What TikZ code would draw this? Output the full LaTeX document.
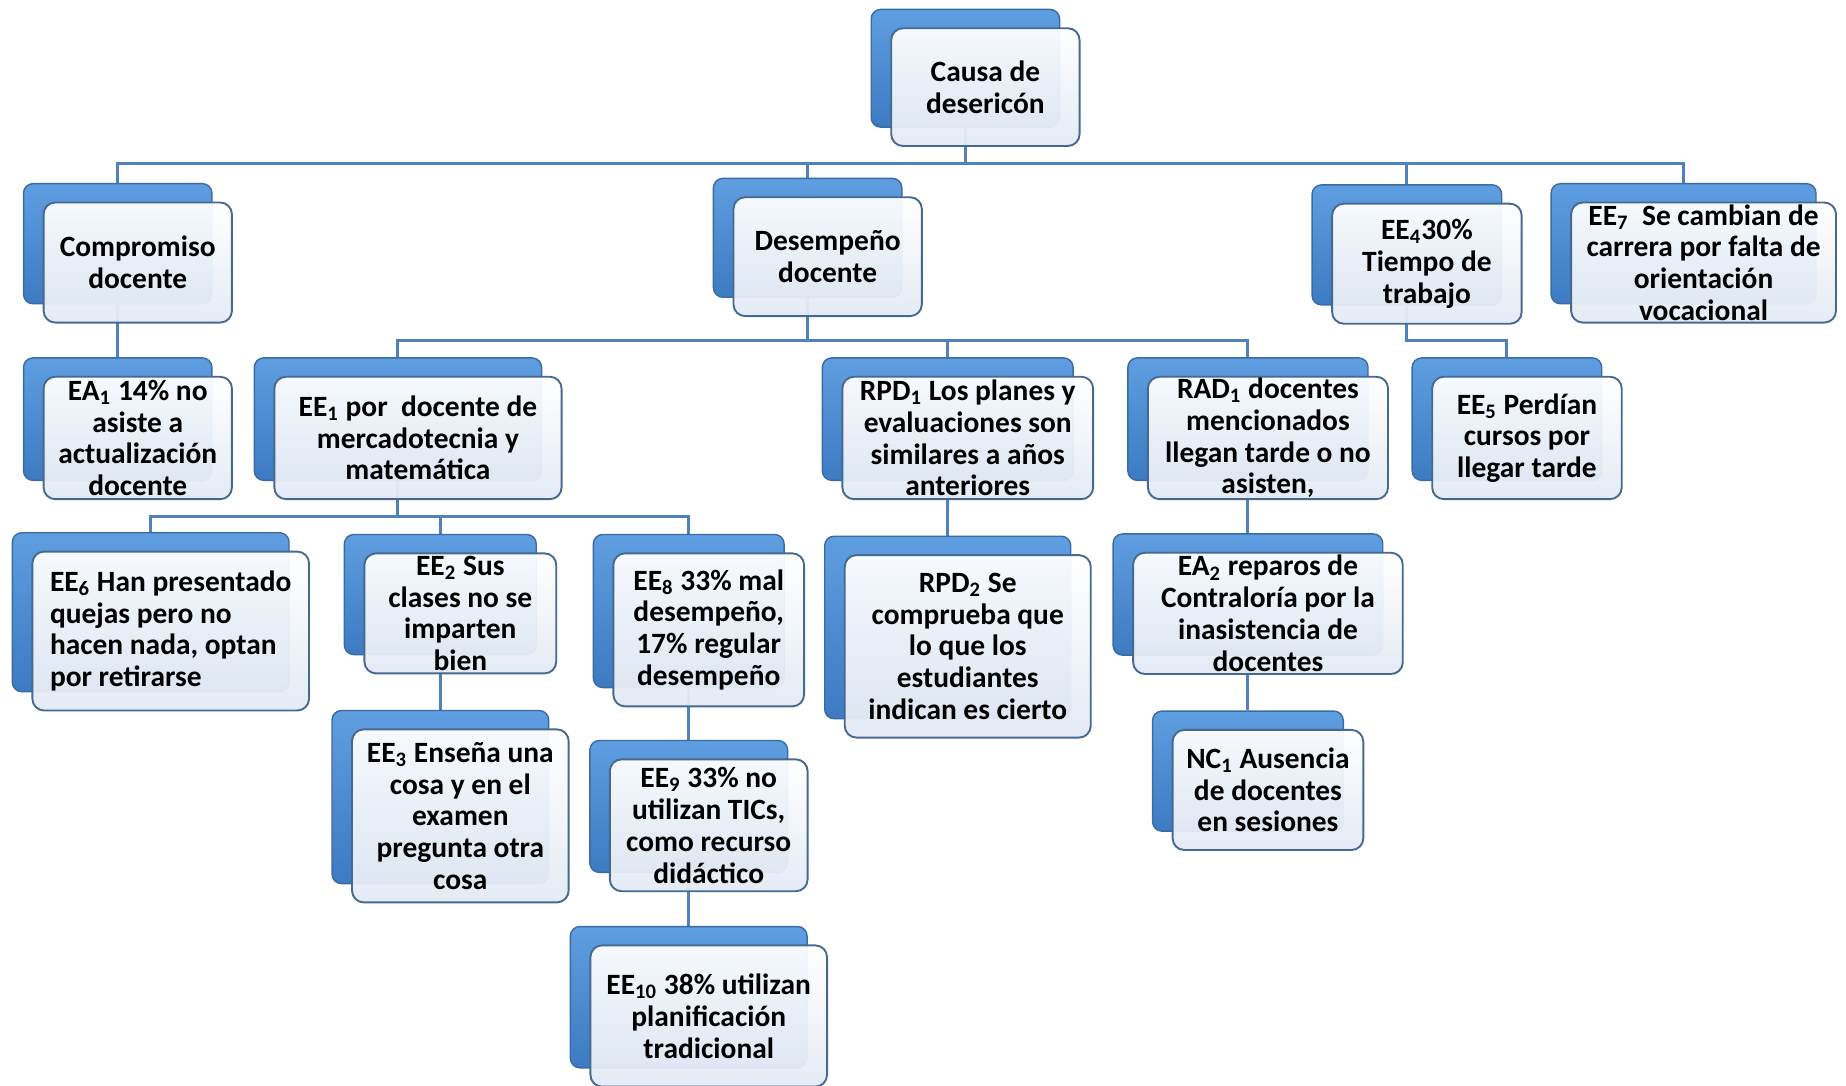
\documentclass[tikz,border=0pt]{standalone}
\usepackage{fontspec}
\setmainfont{Carlito}
\usetikzlibrary{backgrounds}
\definecolor{backtop}{HTML}{5F9EE0}
\definecolor{backbot}{HTML}{3C7AC2}
\definecolor{backline}{HTML}{3A6CA3}
\definecolor{frontbot}{HTML}{E3EAF4}
\definecolor{frontline}{HTML}{46698F}
\definecolor{linkblue}{HTML}{4F81BD}
\begin{document}
\begin{tikzpicture}[x=0.5pt,y=-0.5pt,
	back/.style={draw=backline,line width=0.6pt,top color=backtop,bottom color=backbot,rounded corners=4pt,inner sep=0pt},
	front/.style={draw=frontline,line width=0.8pt,top color=white,bottom color=frontbot,fill opacity=0.95,text opacity=1,rounded corners=5pt,inner sep=0pt,align=center,font=\fontsize{12.5}{13.5}\selectfont\bfseries},
	link/.style={draw=linkblue,line width=1.3pt}]
	\useasboundingbox (0,0) rectangle (1568,922);
	
	\node[back,minimum width=80pt,minimum height=50pt] (causa) at (820,58) {};
	\node[front,minimum width=80pt,minimum height=50pt] (causaF) at ([shift={(17,16)}]causa) {Causa de\\desericón};
	
	\node[back,minimum width=80pt,minimum height=51pt] (compromiso) at (100,207) {};
	\node[front,minimum width=80pt,minimum height=51pt] (compromisoF) at ([shift={(17,16)}]compromiso) {Compromiso\\docente};
	\node[back,minimum width=80pt,minimum height=50.5pt] (desempeno) at (686,202) {};
	\node[front,minimum width=80pt,minimum height=50.5pt] (desempenoF) at ([shift={(17,16)}]desempeno) {Desempeño\\docente};
	\node[back,minimum width=80.5pt,minimum height=51pt] (ee4) at (1195,208) {};
	\node[front,minimum width=80.5pt,minimum height=51pt] (ee4F) at ([shift={(17,16)}]ee4) {EE\textsubscript{4}30\%\\Tiempo de\\trabajo};
	\node[back,minimum width=112.5pt,minimum height=51pt] (ee7) at (1430,207) {};
	\node[front,minimum width=112.5pt,minimum height=51pt] (ee7F) at ([shift={(17,16)}]ee7) {EE\textsubscript{7}\ \ Se cambian de\\carrera por falta de\\orientación\\vocacional};
	
	\node[back,minimum width=80pt,minimum height=52pt] (ea1) at (100,356) {};
	\node[front,minimum width=80pt,minimum height=52pt] (ea1F) at ([shift={(17,16)}]ea1) {EA\textsubscript{1} 14\% no\\asiste a\\actualización\\docente};
	\node[back,minimum width=122pt,minimum height=52pt] (ee1) at (338,356) {};
	\node[front,minimum width=122pt,minimum height=52pt] (ee1F) at ([shift={(17,16)}]ee1) {EE\textsubscript{1} por\ \ docente de\\mercadotecnia y\\matemática};
	\node[back,minimum width=106.5pt,minimum height=52pt] (rpd1) at (805,356) {};
	\node[front,minimum width=106.5pt,minimum height=52pt] (rpd1F) at ([shift={(17,16)}]rpd1) {RPD\textsubscript{1} Los planes y\\evaluaciones son\\similares a años\\anteriores};
	\node[back,minimum width=102pt,minimum height=52pt] (rad1) at (1060,356) {};
	\node[front,minimum width=102pt,minimum height=52pt] (rad1F) at ([shift={(17,16)}]rad1) {RAD\textsubscript{1} docentes\\mencionados\\llegan tarde o no\\asisten,};
	\node[back,minimum width=80.5pt,minimum height=52pt] (ee5) at (1280,356) {};
	\node[front,minimum width=80.5pt,minimum height=52pt] (ee5F) at ([shift={(17,16)}]ee5) {EE\textsubscript{5} Perdían\\cursos por\\llegar tarde};
	
	\node[back,minimum width=117.5pt,minimum height=67.5pt] (ee6) at (128,520) {};
	\node[front,minimum width=117.5pt,minimum height=67.5pt,align=left] (ee6F) at ([shift={(17,16)}]ee6) {EE\textsubscript{6} Han presentado\\quejas pero no\\hacen nada, optan\\por retirarse};
	\node[back,minimum width=81.5pt,minimum height=51pt] (ee2) at (374,505) {};
	\node[front,minimum width=81.5pt,minimum height=51pt] (ee2F) at ([shift={(17,16)}]ee2) {EE\textsubscript{2} Sus\\clases no se\\imparten\\bien};
	\node[back,minimum width=81pt,minimum height=65pt] (ee8) at (585,519) {};
	\node[front,minimum width=81pt,minimum height=65pt] (ee8F) at ([shift={(17,16)}]ee8) {EE\textsubscript{8} 33\% mal\\desempeño,\\17\% regular\\desempeño};
	\node[back,minimum width=104.5pt,minimum height=77.5pt] (rpd2) at (805,533) {};
	\node[front,minimum width=104.5pt,minimum height=77.5pt] (rpd2F) at ([shift={(17,16)}]rpd2) {RPD\textsubscript{2} Se\\comprueba que\\lo que los\\estudiantes\\indican es cierto};
	\node[back,minimum width=114.5pt,minimum height=51.5pt] (ea2) at (1060,505) {};
	\node[front,minimum width=114.5pt,minimum height=51.5pt] (ea2F) at ([shift={(17,16)}]ea2) {EA\textsubscript{2} reparos de\\Contraloría por la\\inasistencia de\\docentes};
	
	\node[back,minimum width=81pt,minimum height=51pt] (nc1) at (1060,655) {};
	\node[front,minimum width=81pt,minimum height=51pt] (nc1F) at ([shift={(17,16)}]nc1) {NC\textsubscript{1} Ausencia\\de docentes\\en sesiones};
	\node[back,minimum width=92pt,minimum height=73.5pt] (ee3) at (374,677) {};
	\node[front,minimum width=92pt,minimum height=73.5pt] (ee3F) at ([shift={(17,16)}]ee3) {EE\textsubscript{3} Enseña una\\cosa y en el\\examen\\pregunta otra\\cosa};
	\node[back,minimum width=84pt,minimum height=56pt] (ee9) at (585,685) {};
	\node[front,minimum width=84pt,minimum height=56pt] (ee9F) at ([shift={(17,16)}]ee9) {EE\textsubscript{9} 33\% no\\utilizan TICs,\\como recurso\\didáctico};
	\node[back,minimum width=100.5pt,minimum height=60pt] (ee10) at (585,847) {};
	\node[front,minimum width=100.5pt,minimum height=60pt] (ee10F) at ([shift={(17,16)}]ee10) {EE\textsubscript{10} 38\% utilizan\\planificación\\tradicional};
	
	\begin{scope}[on background layer]
	\coordinate (busA) at (820,139);
	\coordinate (busB) at (686,289);
	\coordinate (busC) at (1195,289);
	\coordinate (busD) at (338,439);
	\draw[link] (causa.south) -- (busA) -| (compromiso.north);
	\draw[link] (busA) -| (desempeno.north);
	\draw[link] (busA) -| (ee4.north);
	\draw[link] (busA) -| (ee7.north);
	\draw[link] (compromiso.south) -- (ea1.north);
	\draw[link] (desempeno.south) -- (busB) -| (ee1.north);
	\draw[link] (busB) -| (rpd1.north);
	\draw[link] (busB) -| (rad1.north);
	\draw[link] (ee4.south) -- (busC) -| (ee5.north);
	\draw[link] (ee1.south) -- (busD) -| (ee6.north);
	\draw[link] (busD) -| (ee2.north);
	\draw[link] (busD) -| (ee8.north);
	\draw[link] (ee2.south) -- (ee3.north);
	\draw[link] (ee8.south) -- (ee9.north);
	\draw[link] (ee9.south) -- (ee10.north);
	\draw[link] (rpd1.south) -- (rpd2.north);
	\draw[link] (rad1.south) -- (ea2.north);
	\draw[link] (ea2.south) -- (nc1.north);
	\end{scope}
\end{tikzpicture}
\end{document}
